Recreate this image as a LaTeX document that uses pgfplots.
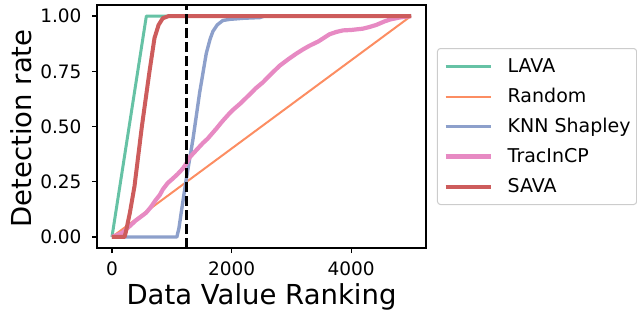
\documentclass[border=0pt]{standalone}
\usepackage{fontspec}
\setmainfont{DejaVu Sans}
\usepackage{pgfplots}
\pgfplotsset{compat=1.18}
\definecolor{cLAVA}{HTML}{66C2A5}
\definecolor{cRand}{HTML}{FC8D62}
\definecolor{cKNN}{HTML}{8DA0CB}
\definecolor{cTrac}{HTML}{E78AC3}
\definecolor{cSAVA}{HTML}{CD5C5C}
\begin{document}
\begin{tikzpicture}
\begin{axis}[
  at={(97pt,61pt)}, anchor=south west,
  scale only axis, width=329pt, height=243pt,
  xmin=-250, xmax=5250, ymin=-0.05, ymax=1.05,
  xtick={0,2000,4000}, ytick={0,0.25,0.5,0.75,1},
  xtick pos=left, ytick pos=left,
  scaled x ticks=false,
  /pgf/number format/assume math mode=true,
  xticklabel style={/pgf/number format/1000 sep={}, font=\fontsize{18.5}{22}\selectfont, inner sep=0pt, anchor=north, yshift=-8.7pt},
  yticklabel style={/pgf/number format/fixed, /pgf/number format/fixed zerofill, /pgf/number format/precision=2, font=\fontsize{18.5}{22}\selectfont, inner sep=0pt, anchor=east, xshift=-10.3pt},
  tick align=outside, major tick length=5pt,
  tick style={line width=1.1pt, black},
  axis line style={line width=1.1pt, black},
  xlabel={Data Value Ranking},
  ylabel={Detection rate},
  xlabel style={font=\fontsize{27.5}{32}\selectfont, at={(axis description cs:0.5,0)}, anchor=base, yshift=-56pt, inner sep=0pt},
  ylabel style={font=\fontsize{27.5}{32}\selectfont, at={(axis description cs:0,0.5)}, anchor=base, xshift=-2pt, yshift=65pt, inner sep=0pt},
  legend style={at={(axis description cs:1.0334,0.823)}, anchor=north west,
    draw=black!20, line width=1pt, rounded corners=3pt, fill=white,
    font=\fontsize{19}{22}\selectfont,
    inner xsep=6pt, inner ysep=7pt, row sep=8pt, column sep=15pt,
    nodes={inner sep=0pt, text height=17.3pt, text depth=4.7pt},
    cells={anchor=west}},
  legend image code/.code={\draw[#1] (0pt,0pt) -- (45pt,0pt);},
  every axis plot/.append style={line join=round},
]
\addplot[cLAVA, line width=3pt] coordinates {(0,0) (575,1) (5000,1)};
\addlegendentry{LAVA}
\addplot[cRand, line width=2pt] coordinates {(0,0) (5000,1)};
\addlegendentry{Random}
\addplot[cKNN, line width=3.4pt] coordinates {(0,0) (1085,0) (1120,0.04) (1158,0.11) (1241,0.26) (1353,0.44) (1464,0.65) (1576,0.83) (1640,0.895) (1687,0.93) (1760,0.96) (1855,0.98) (1967,0.985) (2200,0.99) (2470,0.993) (2550,1) (5000,1)};
\addlegendentry{KNN Shapley}
\addplot[cTrac, line width=4.2pt] coordinates {(0,0) (100,0.01) (181,0.02) (300,0.05) (400,0.075) (500,0.095) (572,0.11) (650,0.135) (700,0.155) (740,0.17) (800,0.19) (850,0.215) (935,0.245) (1000,0.26) (1100,0.285) (1186,0.31) (1250,0.335) (1297,0.36) (1400,0.39) (1520,0.425) (1600,0.445) (1744,0.49) (1850,0.525) (1950,0.555) (2022,0.575) (2150,0.605) (2301,0.645) (2400,0.672) (2524,0.70) (2650,0.735) (2803,0.775) (2950,0.805) (3083,0.83) (3200,0.85) (3305,0.866) (3450,0.885) (3640,0.918) (3750,0.928) (3862,0.935) (4000,0.937) (4197,0.943) (4300,0.95) (4421,0.96) (4550,0.975) (4644,0.984) (4800,0.993) (5000,1.0)};
\addlegendentry{TracInCP}
\addplot[cSAVA, line width=4pt] coordinates {(0,0) (210,0) (230,0.02) (300,0.11) (377,0.23) (500,0.5) (628,0.75) (711,0.9) (780,0.96) (850,0.99) (950,1) (5000,1)};
\addlegendentry{SAVA}
\addplot[black, line width=2.7pt, dash pattern=on 10pt off 4pt, forget plot] coordinates {(1250,-0.05) (1250,1.05)};
\end{axis}
\pgfresetboundingbox
\useasboundingbox (0,0) rectangle (637pt,309pt);
\end{tikzpicture}
\end{document}
